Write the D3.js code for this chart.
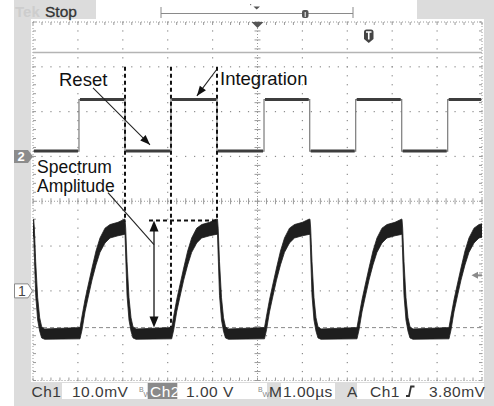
<!DOCTYPE html>
<html>
<head>
<meta charset="utf-8">
<title>Scope capture</title>
<script src="https://d3js.org/d3.v7.min.js"></script>
<style>
  body { margin: 0; background: #fff; }
  svg { display: block; font-family: "Liberation Sans", Arial, sans-serif; }
  .dot { fill: #8c8c8c; }
  .tick { stroke: #9a9a9a; stroke-width: 1; }
  .label { font-size: 18.5px; fill: #111; }
  .status { font-size: 15.5px; fill: #3a3a3a; letter-spacing: 0.5px; }
</style>
</head>
<body>
<svg width="494" height="406"></svg>
<script>
  // time base: 1 µs/div, 10 divisions
  const timeDomain = [-5, 5];

  // Ch1 (10 mV/div): edge times and the shape of one rise / one fall
  const ch1FallTimes = [-4.985, -2.951, -0.891, 1.169, 3.218];
  const ch1RiseTimes = [-3.953, -1.911, 0.156, 2.216, 4.265];
  const riseDt = [0, 0.045, 0.111, 0.178, 0.267, 0.356, 0.445, 0.557, 0.668, 0.846, 0.99];
  const riseHi = [-8.2, -5.6, -2.0, 1.1, 5.1, 8.9, 11.8, 14.0, 14.8, 15.3, 16.0];
  const riseLo = [-10.7, -8.7, -4.7, -1.6, 2.4, 5.8, 8.6, 10.7, 11.8, 12.3, 12.6];
  const fallDt = [0, 0.015, 0.045, 0.089, 0.134, 0.178, 0.245];
  const fallHi = [16.0, 14.0, 6.5, -1.5, -6.0, -8.0, -8.5];
  const fallLo = [12.6, 8.0, -1.0, -6.5, -9.0, -10.5, -10.8];
  const ch1Start = { t: -5, hi: 14.5, lo: 12.0 };

  // Ch2 (1 V/div): gate signal
  const ch2Edges = [-3.976, -2.951, -1.927, -0.902, 0.145, 1.163, 2.187, 3.212, 4.236];
  const ch2Low = 0.12;
  const ch2High = 1.27;

  // cursors / annotations (data units)
  const cursorMv = -8.2;
  const triggerMv = 3.8;
  const spectrumTop = 15.7;
  const spectrumT = -2.305;

  const statusItems = [
    { text: "Ch1", x: 31.5 }, { text: "10.0mV", x: 72 }, { text: "1.00 V", x: 186 },
    { text: "M", x: 269 }, { text: "1.00µs", x: 283 }, { text: "A", x: 347 },
    { text: "Ch1", x: 370 }, { text: "3.80mV", x: 429 }
  ];

  const svg = d3.select("svg");

  const x = d3.scaleLinear().domain(timeDomain).range([33, 482]);
  const gy = d3.scaleLinear().domain([-4, 4]).range([380.5, 22]);
  const y1 = d3.scaleLinear().domain([-20, 60]).range([380.5, 22]);
  const y2 = d3.scaleLinear().domain([-5, 3]).range([380.5, 22]);

  // frame
  svg.append("rect").attr("x", 14).attr("y", 0).attr("width", 480).attr("height", 406).attr("fill", "#dcdcdc");
  svg.append("rect").attr("x", 31).attr("y", 19).attr("width", 453).attr("height", 363).attr("fill", "#fff");
  svg.append("rect").attr("x", 96).attr("y", 0).attr("width", 321).attr("height", 20).attr("fill", "#fff");

  // top bar
  svg.append("text").attr("x", 15).attr("y", 17).attr("font-size", 15).attr("font-weight", "bold").attr("fill", "#cdcdcd").text("Tek");
  svg.append("text").attr("x", 45).attr("y", 17).attr("font-size", 15.5).attr("fill", "#333").attr("stroke", "#333").attr("stroke-width", 0.3).text("Stop");
  const bar = svg.append("g").attr("stroke", "#8a8a8a").attr("stroke-width", 1);
  bar.append("line").attr("x1", 161).attr("x2", 353).attr("y1", 13.5).attr("y2", 13.5);
  bar.append("line").attr("x1", 161).attr("x2", 161).attr("y1", 7).attr("y2", 18);
  bar.append("line").attr("x1", 353).attr("x2", 353).attr("y1", 7).attr("y2", 18);
  svg.append("rect").attr("x", 302).attr("y", 10).attr("width", 6.5).attr("height", 8).attr("rx", 2).attr("fill", "#555");
  svg.append("line").attr("x1", 305.2).attr("x2", 305.2).attr("y1", 12).attr("y2", 17).attr("stroke", "#fff");
  svg.append("path").attr("d", "M253.5,6.5 L260,6.5 L256.7,9.5 Z").attr("fill", "#555");
  svg.append("rect").attr("x", 250).attr("y", 4).attr("width", 1.2).attr("height", 1.2).attr("fill", "#777");

  // graticule
  const grid = svg.append("g");
  const minorT = d3.range(-5, 5.0001, 0.2);
  const minorD = d3.range(-4, 4.0001, 0.2);
  const majorT = d3.range(-4, 5).filter(d => d !== 0);
  const majorD = d3.range(-3, 4).filter(d => d !== 0);

  majorT.forEach(t => {
    grid.selectAll(null).data(minorD).join("rect").attr("class", "dot")
      .attr("x", x(t) - 0.6).attr("y", d => gy(d) - 0.6).attr("width", 1.2).attr("height", 1.2);
  });
  majorD.forEach(dv => {
    grid.selectAll(null).data(minorT).join("rect").attr("class", "dot")
      .attr("x", d => x(d) - 0.6).attr("y", gy(dv) - 0.6).attr("width", 1.2).attr("height", 1.2);
  });

  // border
  grid.append("rect").attr("x", x(-5)).attr("y", gy(4)).attr("width", x(5) - x(-5)).attr("height", gy(-4) - gy(4))
    .attr("fill", "none").attr("stroke", "#9a9a9a").attr("stroke-dasharray", "1,2");
  grid.selectAll(null).data(minorT).join("line").attr("class", "tick")
    .attr("x1", d => x(d)).attr("x2", d => x(d)).attr("y1", gy(4)).attr("y2", gy(4) + 3);
  grid.selectAll(null).data(minorT).join("line").attr("class", "tick")
    .attr("x1", d => x(d)).attr("x2", d => x(d)).attr("y1", gy(-4)).attr("y2", gy(-4) - 3);
  grid.selectAll(null).data(minorD).join("line").attr("class", "tick")
    .attr("x1", x(-5)).attr("x2", x(-5) + 3).attr("y1", d => gy(d)).attr("y2", d => gy(d));
  grid.selectAll(null).data(minorD).join("line").attr("class", "tick")
    .attr("x1", x(5)).attr("x2", x(5) - 3).attr("y1", d => gy(d)).attr("y2", d => gy(d));

  // centre cross
  grid.append("line").attr("x1", x(0)).attr("x2", x(0)).attr("y1", gy(4)).attr("y2", gy(-4))
    .attr("stroke", "#9a9a9a").attr("stroke-dasharray", "1,2");
  grid.append("line").attr("x1", x(-5)).attr("x2", x(5)).attr("y1", gy(0)).attr("y2", gy(0))
    .attr("stroke", "#9a9a9a").attr("stroke-dasharray", "1,2");
  grid.selectAll(null).data(minorD).join("line").attr("class", "tick")
    .attr("x1", x(0) - 3).attr("x2", x(0) + 3).attr("y1", d => gy(d)).attr("y2", d => gy(d));
  grid.selectAll(null).data(minorT).join("line").attr("class", "tick")
    .attr("x1", d => x(d)).attr("x2", d => x(d)).attr("y1", gy(0) - 3).attr("y2", gy(0) + 3);

  // solid reference line under the top of the screen
  svg.append("line").attr("x1", x(-5)).attr("x2", x(5)).attr("y1", 52.5).attr("y2", 52.5)
    .attr("stroke", "#b4b4b4").attr("stroke-width", 1.5);

  // trigger position marker and T icon
  svg.append("path").attr("d", `M${x(0) - 6},22 L${x(0) + 6},22 L${x(0)},28 Z`).attr("fill", "#555");
  svg.append("path").attr("d", "M364,32 Q364,29.5 366.5,29.5 L371,29.5 Q373.5,29.5 373.5,32 L373.5,39 L368.75,43 L364,39 Z").attr("fill", "#444");
  svg.append("path").attr("d", "M366,32 L371.5,32 M368.75,32 L368.75,39.5").attr("stroke", "#fff").attr("stroke-width", 1.6);

  svg.append("clipPath").attr("id", "plot")
    .append("rect").attr("x", x(-5)).attr("y", gy(4)).attr("width", x(5) - x(-5)).attr("height", gy(-4) - gy(4));

  // cursor line
  svg.append("line").attr("x1", x(-5) + 3).attr("x2", x(5)).attr("y1", y1(cursorMv)).attr("y2", y1(cursorMv))
    .attr("stroke", "#8a8a8a").attr("stroke-dasharray", "4,3");

  // Ch2 trace
  const ch2Points = [{ t: timeDomain[0], v: ch2Low }];
  let level = ch2Low;
  ch2Edges.forEach(t => {
    ch2Points.push({ t, v: level });
    level = level === ch2Low ? ch2High : ch2Low;
    ch2Points.push({ t, v: level });
  });
  ch2Points.push({ t: timeDomain[1], v: level });

  const ch2 = svg.append("g").attr("clip-path", "url(#plot)");
  ch2.append("path").datum(ch2Points)
    .attr("d", d3.line().x(d => x(d.t)).y(d => y2(d.v)))
    .attr("fill", "none").attr("stroke", "#7a7a7a").attr("stroke-width", 1.2);
  const plateaus = d3.range(0, ch2Points.length, 2).map(i => [ch2Points[i], ch2Points[i + 1]]);
  ch2.selectAll(null).data(plateaus).join("line")
    .attr("x1", d => x(d[0].t) + 1).attr("x2", d => x(d[1].t) - 1)
    .attr("y1", d => y2(d[0].v)).attr("y2", d => y2(d[1].v))
    .attr("stroke", "#3d3d3d").attr("stroke-width", 3);

  // Ch1 trace: envelope band
  const ch1Points = [ch1Start];
  ch1FallTimes.forEach(t0 => fallDt.forEach((dt, i) => ch1Points.push({ t: t0 + dt, hi: fallHi[i], lo: fallLo[i] })));
  ch1RiseTimes.forEach(t0 => riseDt.forEach((dt, i) => ch1Points.push({ t: t0 + dt, hi: riseHi[i], lo: riseLo[i] })));
  ch1Points.sort((a, b) => a.t - b.t);

  svg.append("g").attr("clip-path", "url(#plot)")
    .append("path").datum(ch1Points)
    .attr("d", d3.area().x(d => x(d.t)).y0(d => y1(d.lo)).y1(d => y1(d.hi)))
    .attr("fill", "#1e1e1e").attr("stroke", "#1e1e1e").attr("stroke-width", 0.8);

  // channel markers
  const m2 = y2(0);
  svg.append("path").attr("d", `M14,${m2 - 6.5} L28,${m2 - 6.5} L33,${m2} L28,${m2 + 6.5} L14,${m2 + 6.5} Z`).attr("fill", "#8c8c8c");
  svg.append("text").attr("x", 17.5).attr("y", m2 + 5).attr("font-size", 13).attr("font-weight", "bold").attr("fill", "#fff").text("2");
  const m1 = y1(0);
  svg.append("path").attr("d", `M14.5,${m1 - 7} L28,${m1 - 7} L32.5,${m1} L28,${m1 + 7} L14.5,${m1 + 7} Z`)
    .attr("fill", "#fff").attr("stroke", "#8a8a8a");
  svg.append("text").attr("x", 18).attr("y", m1 + 5).attr("font-size", 14).attr("fill", "#444").text("1");
  const tr = y1(triggerMv) + 1.5;
  svg.append("path").attr("d", `M471.5,${tr} L478,${tr - 3.5} L478,${tr + 3.5} Z`).attr("fill", "#8a8a8a");
  svg.append("line").attr("x1", 477).attr("x2", 482).attr("y1", tr).attr("y2", tr).attr("stroke", "#8a8a8a").attr("stroke-width", 2);

  // annotations
  const ann = svg.append("g");
  function arrowHead(x1, yA, x2, yB, len, half) {
    const dx = x2 - x1, dy = yB - yA, l = Math.hypot(dx, dy);
    const ux = dx / l, uy = dy / l;
    const bx = x2 - ux * len, by = yB - uy * len;
    return `M${x2},${yB} L${bx - uy * half},${by + ux * half} L${bx + uy * half},${by - ux * half} Z`;
  }
  function arrow(xa, ya, xb, yb) {
    ann.append("line").attr("x1", xa).attr("y1", ya).attr("x2", xb).attr("y2", yb).attr("stroke", "#222").attr("stroke-width", 1.1);
    ann.append("path").attr("d", arrowHead(xa, ya, xb, yb, 10, 3.8)).attr("fill", "#111");
  }

  const dashTop = gy(3);
  ann.selectAll(null).data([
    { t: ch2Edges[1], end: y1(spectrumTop) + 1 },
    { t: ch2Edges[2], end: y1(cursorMv) },
    { t: ch2Edges[3], end: y1(spectrumTop) }
  ]).join("line")
    .attr("x1", d => x(d.t)).attr("x2", d => x(d.t)).attr("y1", dashTop).attr("y2", d => d.end)
    .attr("stroke", "#111").attr("stroke-width", 2).attr("stroke-dasharray", "4,3");
  ann.append("line").attr("x1", x(spectrumT) - 5).attr("x2", x(ch2Edges[3])).attr("y1", y1(spectrumTop)).attr("y2", y1(spectrumTop))
    .attr("stroke", "#111").attr("stroke-width", 2).attr("stroke-dasharray", "4,3");

  // double arrow
  const ax = x(spectrumT);
  ann.append("line").attr("x1", ax).attr("x2", ax).attr("y1", y1(spectrumTop) + 8).attr("y2", y1(cursorMv) - 8)
    .attr("stroke", "#333").attr("stroke-width", 1.5);
  ann.append("path").attr("d", arrowHead(ax, 260, ax, y1(spectrumTop), 11, 4.5)).attr("fill", "#111");
  ann.append("path").attr("d", arrowHead(ax, 260, ax, y1(cursorMv), 11, 4.5)).attr("fill", "#111");

  arrow(x(-3.664), y2(1.53), x(-2.394), y2(0.26));
  arrow(x(-0.913), y2(1.935), x(-1.35), y2(1.35));
  ann.append("line").attr("x1", x(-3.33)).attr("y1", y1(21.9)).attr("x2", ax).attr("y2", y1(10.3))
    .attr("stroke", "#222").attr("stroke-width", 1.1);

  ann.append("text").attr("class", "label").attr("x", 59).attr("y", 85.5).text("Reset");
  ann.append("text").attr("class", "label").attr("x", 220).attr("y", 85).text("Integration");
  ann.append("text").attr("class", "label").style("font-size", "17.5px").attr("x", 37).attr("y", 172.5).text("Spectrum");
  ann.append("text").attr("class", "label").style("font-size", "17.5px").attr("x", 37).attr("y", 192).text("Amplitude");

  // status line
  const st = svg.append("g");
  [[62, 147], [178, 267], [281, 335], [357, 484]].forEach(b =>
    st.append("rect").attr("x", b[0]).attr("y", 383).attr("width", b[1] - b[0]).attr("height", 16).attr("fill", "#fff"));
  st.append("rect").attr("x", 148).attr("y", 383).attr("width", 29).attr("height", 16).attr("fill", "#8a8a8a");
  st.append("text").attr("class", "status").attr("x", 150).attr("y", 397).style("fill", "#fff").text("Ch2");
  st.selectAll(null).data(statusItems).join("text").attr("class", "status")
    .attr("x", d => d.x).attr("y", 397).text(d => d.text);
  [139, 258].forEach(bx => {
    st.append("text").attr("x", bx).attr("y", 391.5).attr("font-size", 7).attr("fill", "#888").text("B");
    st.append("text").attr("x", bx + 4.6).attr("y", 397).attr("font-size", 7.5).attr("fill", "#888").text("W");
  });
  st.append("path").attr("d", "M406,396 L409,396 L411,386.5 L414.5,386.5").attr("fill", "none").attr("stroke", "#333").attr("stroke-width", 1.8);
</script>
</body>
</html>
